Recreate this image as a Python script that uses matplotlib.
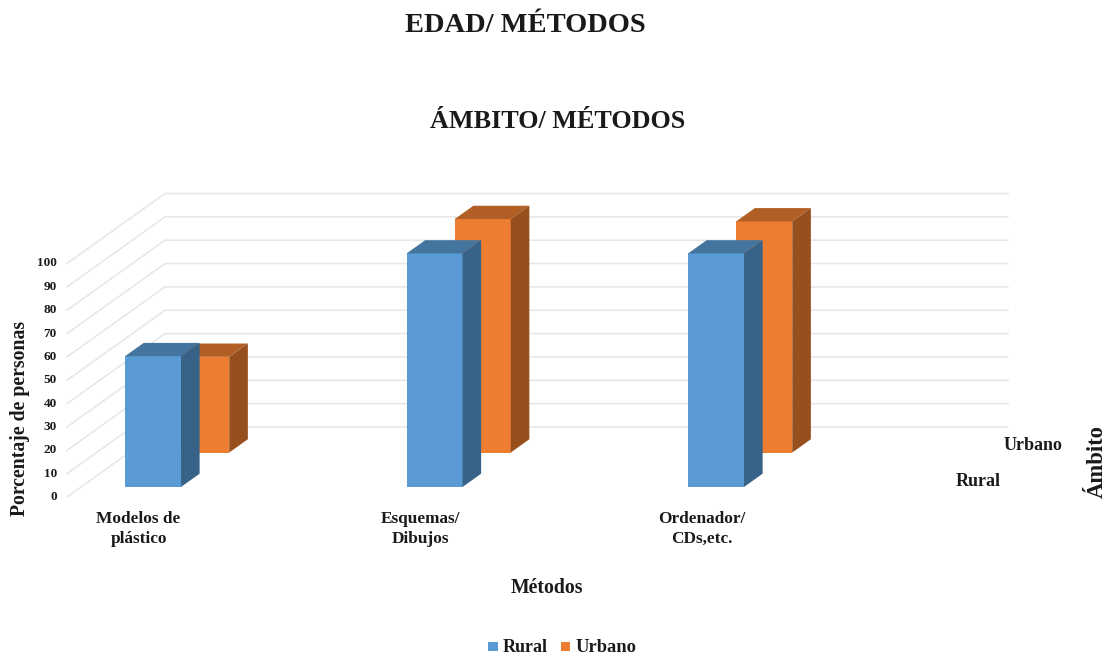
import numpy as np
import matplotlib
matplotlib.use("Agg")
import matplotlib.pyplot as plt
from matplotlib.patches import Polygon, Rectangle

categories = ["Modelos de\nplástico", "Esquemas/\nDibujos", "Ordenador/\nCDs,etc."]
rural = [56, 100, 100]
urbano = [41, 100, 99]
y_ticks = [0, 10, 20, 30, 40, 50, 60, 70, 80, 90, 100]

plt.rcParams["font.family"] = ["Liberation Serif", "DejaVu Serif"]
plt.rcParams["font.weight"] = "bold"

# oblique projection of the excel 3d box, in image pixels
X0 = 67
Y0 = 497
CAT_W = 281.5
BAR_W = 56
BAR_OFF = 44
DEPTH_X = 98
DEPTH_Y = 70
PX_UNIT = 2.335
BAR_D = 0.19


def proj(x, d, v):
    return (X0 + x + DEPTH_X * d, Y0 - DEPTH_Y * d - PX_UNIT * v)


def draw_bar(ax, cat, d, v, front, top, side, z):
    x1 = BAR_OFF + CAT_W * cat
    x2 = x1 + BAR_W
    d2 = d + BAR_D
    ax.add_patch(Polygon([proj(x1, d, 0), proj(x2, d, 0), proj(x2, d, v), proj(x1, d, v)], fc=front, ec="none", zorder=z))
    ax.add_patch(Polygon([proj(x1, d, v), proj(x2, d, v), proj(x2, d2, v), proj(x1, d2, v)], fc=top, ec="none", zorder=z))
    ax.add_patch(Polygon([proj(x2, d, 0), proj(x2, d2, 0), proj(x2, d2, v), proj(x2, d, v)], fc=side, ec="none", zorder=z))


fig = plt.figure(figsize=(11.1, 6.55), dpi=100)
ax = fig.add_axes([0, 0, 1, 1])
ax.set_xlim(0, 1110)
ax.set_ylim(655, 0)
ax.axis("off")

# walls
for t in y_ticks:
    ax.plot(*zip(proj(0, 0, t), proj(0, 1, t), proj(843, 1, t)), color="#e6e6e6", lw=1.1, zorder=1)
    ax.text(57, proj(0, 0, t)[1], str(t), ha="right", va="center", fontsize=9.5, color="#1a1a1a")

for i in range(len(categories)):
    draw_bar(ax, i, 0.635, urbano[i], "#ed7d31", "#b25f25", "#974f1e", 2)
    draw_bar(ax, i, 0.143, rural[i], "#5b9bd5", "#44759f", "#386389", 3)
    ax.text(138.5 + CAT_W * i, 529, categories[i], ha="center", va="center", fontsize=12.4, linespacing=1.3, color="#1a1a1a")

ax.text(525, 25, "EDAD/ MÉTODOS", ha="center", va="center", fontsize=20.5, color="#1a1a1a")
ax.text(558, 121, "ÁMBITO/ MÉTODOS", ha="center", va="center", fontsize=18.8, color="#1a1a1a")
ax.text(547, 588, "Métodos", ha="center", va="center", fontsize=14.2, color="#1a1a1a")
ax.text(20, 418, "Porcentaje de personas", ha="center", va="center", rotation=90, fontsize=14.2, color="#1a1a1a")
ax.text(1097, 462, "Ámbito", ha="center", va="center", rotation=90, fontsize=16.3, color="#1a1a1a")
ax.text(1033, 446, "Urbano", ha="center", va="center", fontsize=13, color="#1a1a1a")
ax.text(978, 482, "Rural", ha="center", va="center", fontsize=13, color="#1a1a1a")

# legend
ax.add_patch(Rectangle((488, 642), 10, 9, fc="#5b9bd5", ec="none"))
ax.text(503, 648, "Rural", ha="left", va="center", fontsize=13, color="#1a1a1a")
ax.add_patch(Rectangle((561, 642), 9, 9, fc="#ed7d31", ec="none"))
ax.text(575, 648, "Urbano", ha="left", va="center", fontsize=13.3, color="#1a1a1a")

fig.savefig("out.png", dpi=100)
